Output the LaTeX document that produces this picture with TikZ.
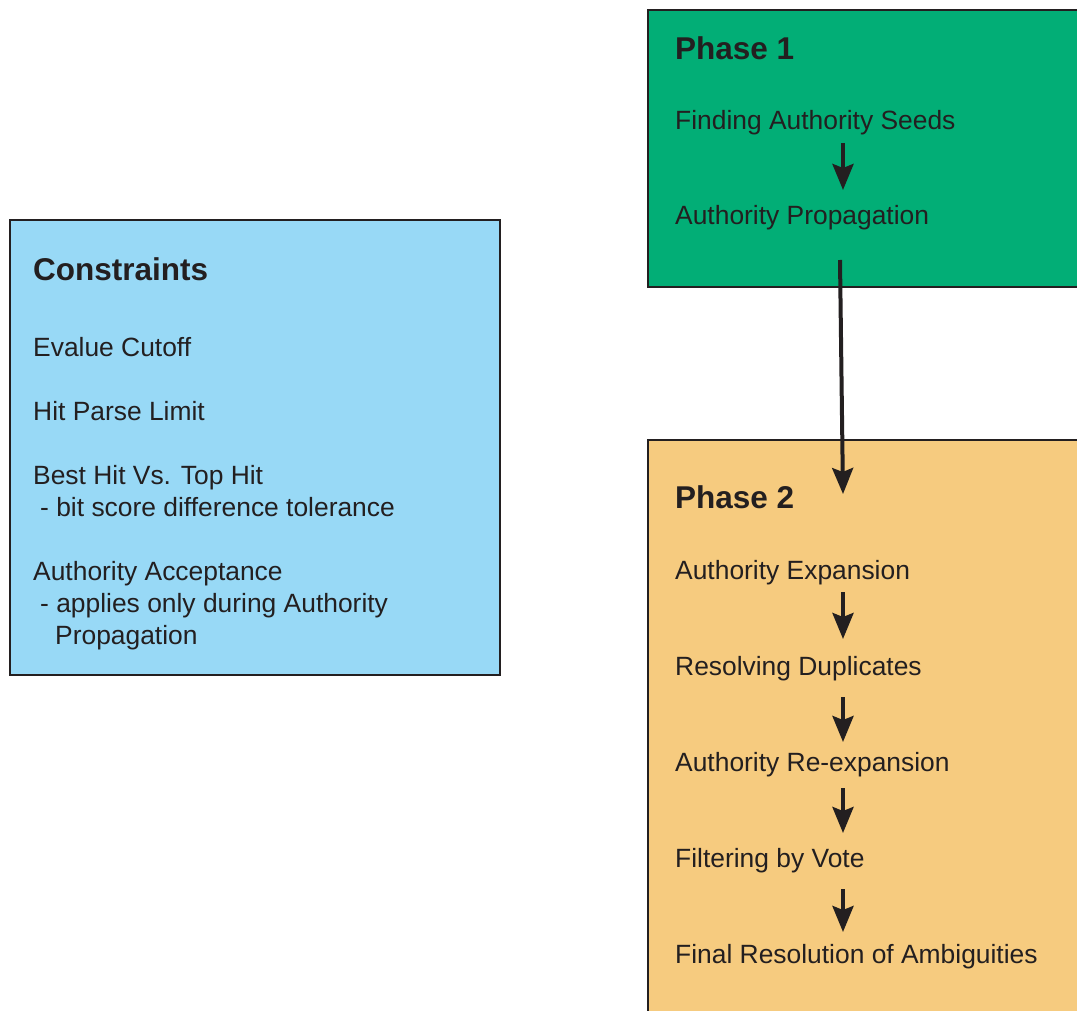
\documentclass[tikz,border=0pt]{standalone}
\usepackage{fontspec}
\setmainfont{Liberation Sans}
\usepackage{tikz}
\usetikzlibrary{arrows.meta}

\definecolor{inkdark}{RGB}{35,31,32}
\definecolor{phaseonegreen}{RGB}{2,174,118}
\definecolor{phasetwoorange}{RGB}{246,203,127}
\definecolor{constrblue}{RGB}{152,217,246}

\begin{document}
\begin{tikzpicture}[x=1pt,y=-1pt,
    box/.style={draw=inkdark,line width=2.4pt},
    txt/.style={anchor=base west,inner sep=0pt,text=inkdark,font=\fontsize{26.4}{32}\selectfont},
    head/.style={txt,font=\fontsize{31.5}{36}\selectfont\bfseries},
    arr/.style={draw=inkdark,line width=4pt,-{Stealth[length=26pt,width=21pt,inset=4pt]}}]
  \useasboundingbox (0,0) rectangle (1077,1011);
  \clip (0,0) rectangle (1077,1011);
  % boxes
  \filldraw[box,fill=constrblue] (10,220) rectangle (500,675);
  \filldraw[box,fill=phaseonegreen] (648,10) rectangle (1095,287);
  \filldraw[box,fill=phasetwoorange] (648,440) rectangle (1095,1030);
  % constraints
  \node[head] (constr) at (33,280) {Constraints};
  \node[txt] (evalue) at (33,356) {Evalue Cutoff};
  \node[txt] (hitparse) at (33,420) {Hit Parse Limit};
  \node[txt] (besthit) at (33,484) {Best Hit Vs. Top Hit};
  \node[txt] (bitscore) at (40,516) {- bit score difference tolerance};
  \node[txt] (accept) at (33,580) {Authority Acceptance};
  \node[txt] (applies) at (40,612) {- applies only during Authority};
  \node[txt] (appliesb) at (55,644) {Propagation};
  % phase 1
  \node[head] (phaseone) at (675,60) {Phase 1};
  \node[txt] (seeds) at (675,130) {Finding Authority Seeds};
  \node[txt] (propag) at (675,225) {Authority Propagation};
  % phase 2
  \node[head] (phasetwo) at (675,508) {Phase 2};
  \node[txt] (expand) at (675,579) {Authority Expansion};
  \node[txt] (dupl) at (675,675) {Resolving Duplicates};
  \node[txt] (reexp) at (675,771) {Authority Re-expansion};
  \node[txt] (vote) at (675,867) {Filtering by Vote};
  \node[txt] (final) at (675,963) {Final Resolution of Ambiguities};
  % arrows
  \coordinate (col) at (843,0);
  \coordinate (linkstart) at (840,260);
  \coordinate (linkend) at (843,494);
  \draw[arr] (linkstart) -- (linkend);
  \foreach \a/\b/\s/\e in {seeds/propag/13/35,expand/dupl/13/36,dupl/reexp/22/29,
                           reexp/vote/17/34,vote/final/22/31}
    \draw[arr] ([yshift=-\s pt]\a.base -| col) -- ([yshift=\e pt]\b.base -| col);
\end{tikzpicture}
\end{document}
